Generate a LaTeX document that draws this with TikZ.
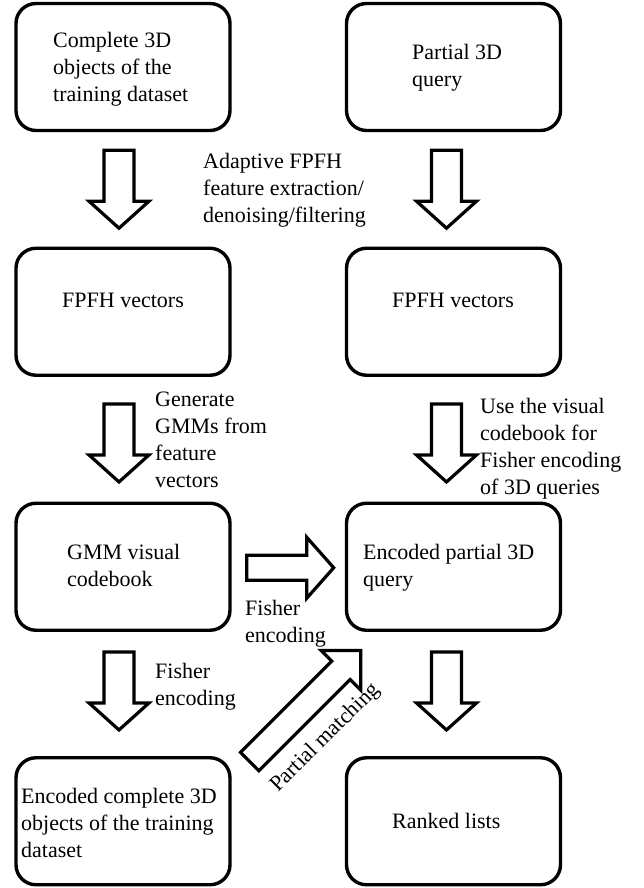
\documentclass[tikz,border=0pt]{standalone}
\usepackage{fontspec}
\setmainfont{LiberationSerif}[Extension=.ttf, UprightFont=*-Regular, BoldFont=*-Bold, ItalicFont=*-Italic, BoldItalicFont=*-BoldItalic]
\usetikzlibrary{calc}
\tikzset{
  box/.style={draw, line width=3.4pt, rounded corners=20pt, minimum width=214pt, minimum height=127pt, inner sep=0pt},
  txt/.style={font=\rmfamily\fontsize{22}{27}\selectfont, align=left, inner sep=0pt, anchor=north west},
  lbl/.style={font=\rmfamily\fontsize{22}{27}\selectfont, inner sep=0pt},
  blk/.style={draw, line width=3.2pt, fill=white, line join=miter},
  downblk/.pic={\draw[blk] (-15,0) -- (15,0) -- (15,51) -- (30,51) -- (0,78) -- (-30,51) -- (-15,51) -- cycle;},
  rightblk/.pic={\draw[blk] (0,-12.5) -- (60,-12.5) -- (60,-30.5) -- (87,0) -- (60,30.5) -- (60,12.5) -- (0,12.5) -- cycle;},
  diagblk/.pic={\draw[blk] (0,-13) -- (129,-13) -- (129,-28) -- (157,0) -- (129,28) -- (129,13) -- (0,13) -- cycle;}
}
\begin{document}
\begin{tikzpicture}[x=1pt, y=-1pt]
\useasboundingbox[fill=white] (0,0) rectangle (644,888);

% boxes
\node[box] (A) at (123,67) {};
\node[box] (B) at (453.5,67) {};
\node[box] (C) at (123,311.75) {};
\node[box] (D) at (453.5,311.75) {};
\node[box] (E) at (123,566.75) {};
\node[box] (F) at (453.5,566.75) {};
\node[box] (G) at (123,821.25) {};
\node[box] (H) at (453.5,821.25) {};

% box texts
\node[txt] (At) at (53,32) {Complete 3D\\objects of the\\training dataset};
\node[txt] (Bt) at (412,44) {Partial 3D\\query};
\node[txt] (Ct) at (62,293) {FPFH vectors};
\node[txt] (Dt) at (392,293) {FPFH vectors};
\node[txt] (Et) at (67,544) {GMM visual\\codebook};
\node[txt] (Ft) at (363,544) {Encoded partial 3D\\query};
\node[txt] (Gt) at (21,788) {Encoded complete 3D\\objects of the training\\dataset};
\node[txt] (Ht) at (392,813) {Ranked lists};

% block arrows
\path ($(A.south)+(-4,18)$) pic {downblk};
\path ($(B.south)+(-7,18)$) pic {downblk};
\path ($(C.south)+(-4,27)$) pic {downblk};
\path ($(D.south)+(-7,27)$) pic {downblk};
\path ($(E.south)+(-4,20)$) pic {downblk};
\path ($(F.south)+(-7,20)$) pic {downblk};
\path ($(E.east)+(15,1)$) pic {rightblk};
\path ($(G.north east)+(18,5.5)$) pic[rotate=45] {diagblk};

% arrow labels
\node[txt] (l1) at (203,153) {Adaptive FPFH\\feature extraction/\\denoising/filtering};
\node[txt] (l2) at (155,392) {Generate\\GMMs from\\feature\\vectors};
\node[txt] (l3) at (480,398) {Use the visual\\codebook for\\Fisher encoding\\of 3D queries};
\node[txt] (l4) at (245,600) {Fisher\\encoding};
\node[txt] (l5) at (155,663) {Fisher\\encoding};
\node[lbl, rotate=45] (l6) at ($(G.north east)+(94,-18)$) {Partial matching};
\end{tikzpicture}
\end{document}
